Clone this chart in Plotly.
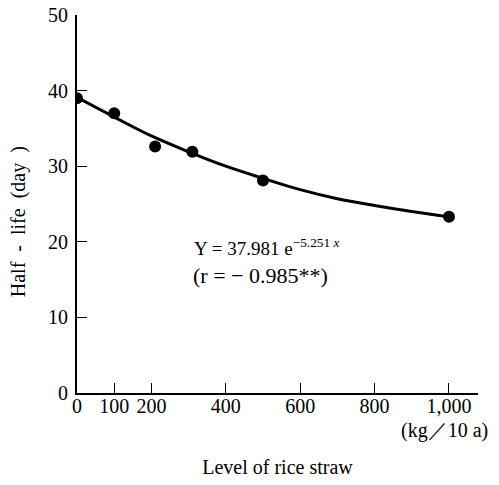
import plotly.graph_objects as go

# Observed data points
straw_level = [0, 100, 210, 310, 500, 1000]
half_life = [39.0, 37.0, 32.6, 31.9, 28.1, 23.3]

# Fitted curve
curve_x = [0, 100, 200, 300, 400, 500, 600, 700, 800, 900, 1000]
curve_y = [39.1, 36.5, 34.0, 31.9, 30.0, 28.4, 26.9, 25.7, 24.8, 24.0, 23.3]

x_tick_vals = [0, 100, 200, 400, 600, 800, 1000]
x_tick_text = ["0", "100", "200", "400", "600", "800", "1,000"]
y_tick_vals = [0, 10, 20, 30, 40, 50]

FONT = "Liberation Serif"
SP = "\u2002"

fig = go.Figure()
fig.add_trace(go.Scatter(x=curve_x, y=curve_y, mode="lines",
                         line=dict(color="black", width=3, shape="spline", smoothing=1.0),
                         hoverinfo="skip", showlegend=False))
fig.add_trace(go.Scatter(x=straw_level, y=half_life, mode="markers",
                         marker=dict(color="black", size=12),
                         showlegend=False))

fig.update_layout(
    width=499, height=485,
    margin=dict(l=77, r=21, t=15, b=92, autoexpand=False),
    paper_bgcolor="white", plot_bgcolor="white",
    font=dict(family=FONT, size=20, color="black"),
    xaxis=dict(range=[0, 1078], tickvals=x_tick_vals, ticktext=x_tick_text,
               ticks="inside", ticklen=10, tickwidth=1.3, tickcolor="black",
               showline=True, linecolor="black", linewidth=1.8,
               showgrid=False, zeroline=False, ticklabelstandoff=-6,
               ticklabeloverflow="allow",
               title=dict(text="Level of rice straw", standoff=44,
                          font=dict(family=FONT, size=20))),
    yaxis=dict(range=[0, 50], tickvals=y_tick_vals,
               ticks="inside", ticklen=10, tickwidth=1.3, tickcolor="black",
               showline=True, linecolor="black", linewidth=1.8,
               showgrid=False, zeroline=False, ticklabelstandoff=3,
               ticklabeloverflow="allow"),
)

# y-axis title placed as rotated text to match the reference position
fig.add_annotation(x=-0.147, y=0.452, xref="paper", yref="paper",
                   xanchor="center", yanchor="middle", textangle=-90,
                   text=f"Half{SP}-{SP}life{SP}(day{SP})",
                   showarrow=False, font=dict(family=FONT, size=20))
fig.add_annotation(x=509, y=19.3, xref="x", yref="y",
                   text="Y = 37.981 e<sup>−5.251 <i>x</i></sup>",
                   showarrow=False, font=dict(family=FONT, size=19))
fig.add_annotation(x=493, y=15.5, xref="x", yref="y",
                   text="(r\u00a0=\u00a0−\u00a00.985**)",
                   showarrow=False, font=dict(family=FONT, size=22))
fig.add_annotation(x=1.03, y=-0.098, xref="paper", yref="paper",
                   xanchor="right", yanchor="middle",
                   text="(kg／10 a)",
                   showarrow=False, font=dict(family=FONT, size=20))

fig.write_html("out.html",
               config={"displayModeBar": False},
               post_script="document.body.style.margin='0';")
